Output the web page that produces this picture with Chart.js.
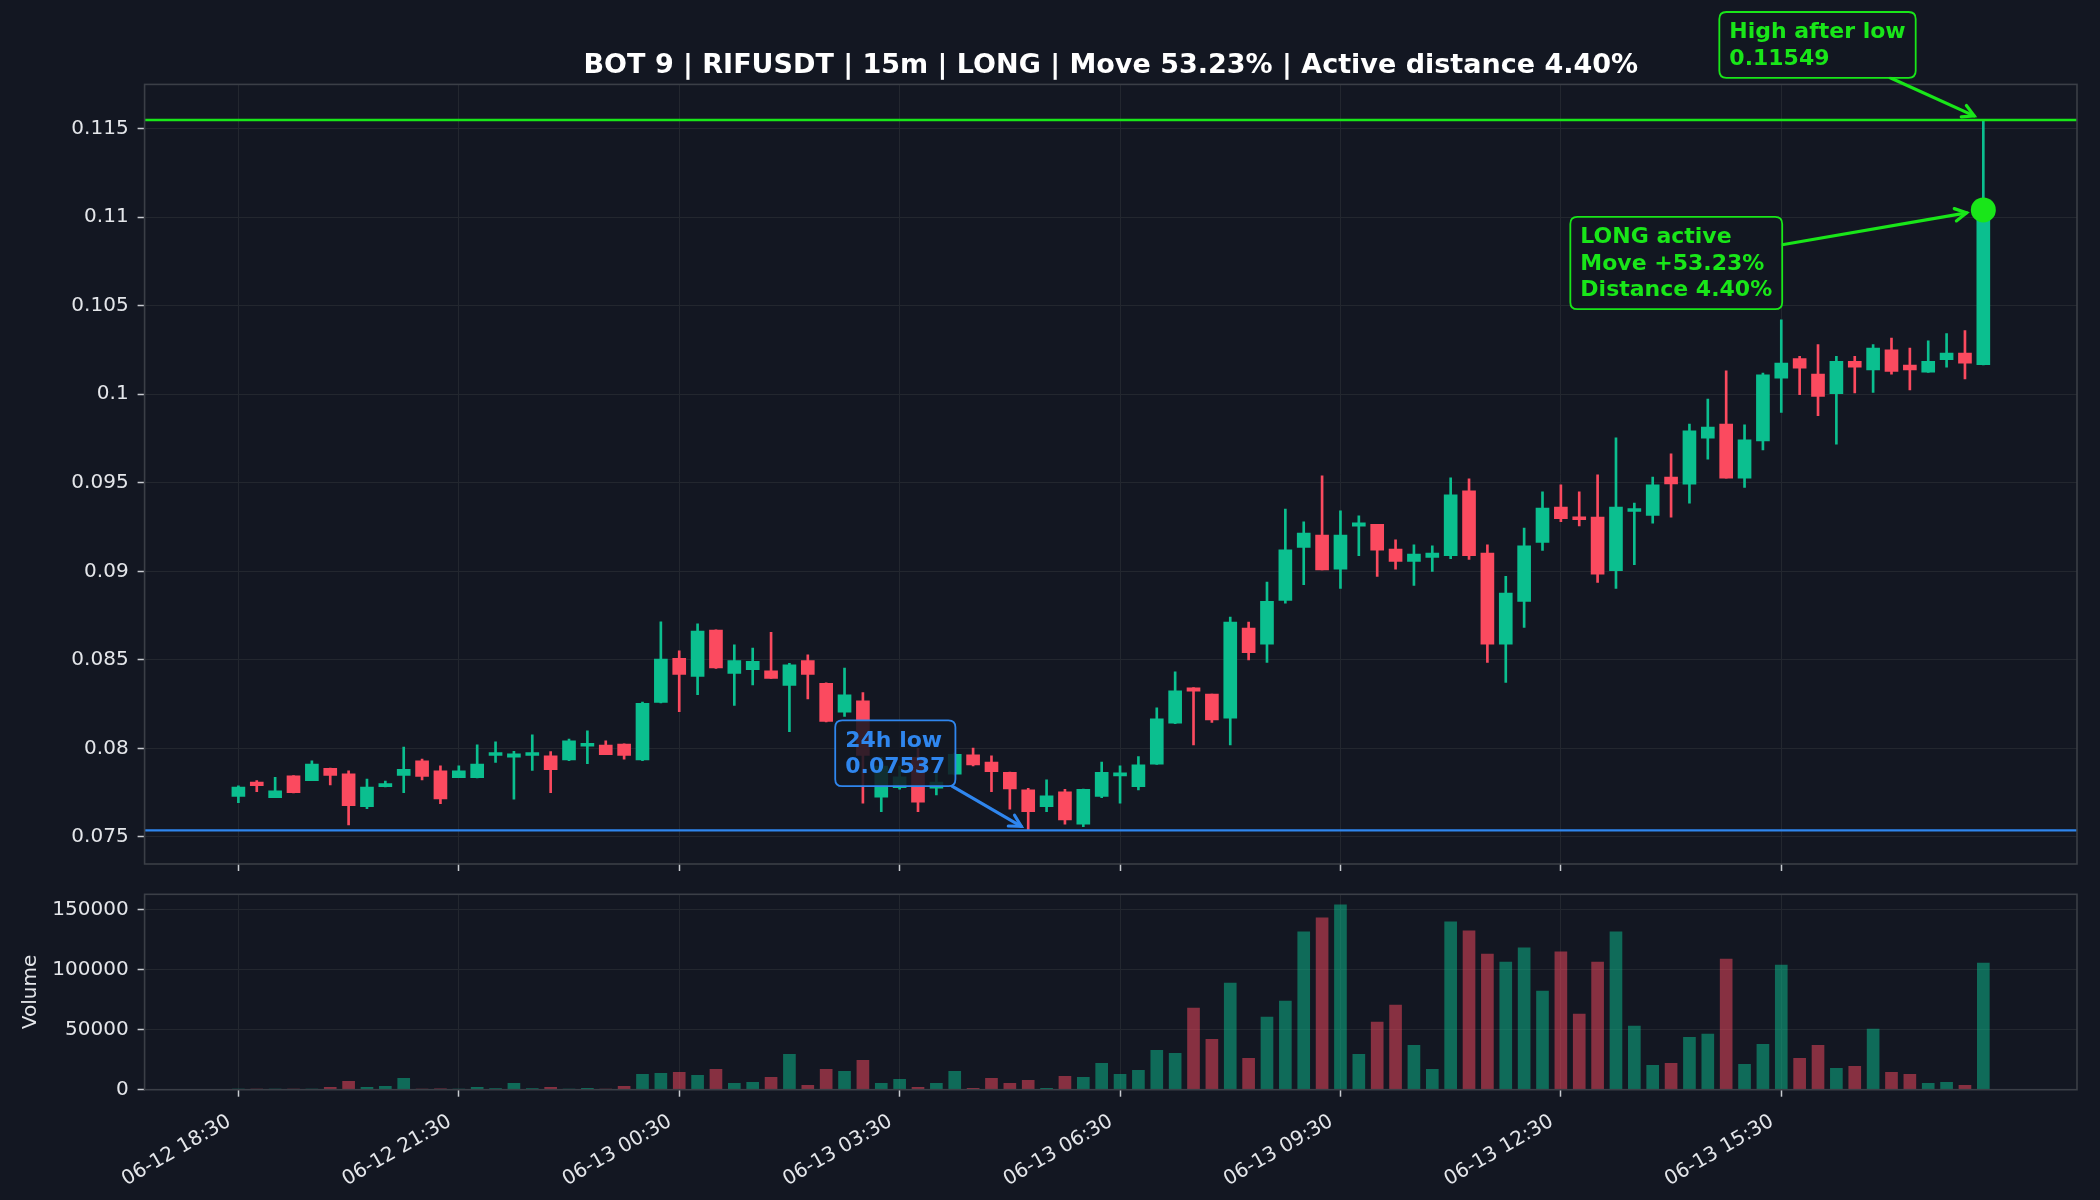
<!DOCTYPE html>
<html>
<head>
<meta charset="utf-8">
<script src="https://cdn.jsdelivr.net/npm/chart.js@4.4.1/dist/chart.umd.min.js"></script>
<style>
  html, body { margin: 0; padding: 0; background: #131722; }
  #wrap { position: relative; width: 2100px; height: 1200px; background: #131722; }
  canvas { position: absolute; left: 0; top: 0; }
</style>
</head>
<body>
<div id="wrap">
  <canvas id="price" width="2100" height="1200"></canvas>
  <canvas id="vol" width="2100" height="1200"></canvas>
</div>
<script>
// ---------------- DATA ----------------
const TITLE = 'BOT 9 | RIFUSDT | 15m | LONG | Move 53.23% | Active distance 4.40%';
const MOVE_TEXT = 'Move +53.23%';
const DIST_TEXT = 'Distance 4.40%';

const opens = [
  0.07728,0.07809,0.07722,0.07845,0.07818,0.07888,0.07856,0.07671,0.07784,0.07847,
  0.07929,0.07873,0.07835,0.07835,0.07960,0.07950,0.07960,0.07958,0.07935,0.08012,
  0.08018,0.08024,0.07935,0.08259,0.08509,0.08406,0.08668,0.08423,0.08445,0.08438,
  0.08355,0.08496,0.08368,0.08205,0.08268,0.07724,0.07778,0.07950,0.07775,0.07854,
  0.07963,0.07922,0.07865,0.07766,0.07671,0.07754,0.07572,0.07728,0.07845,0.07784,
  0.07911,0.08142,0.08342,0.08306,0.08170,0.08679,0.08589,0.08835,0.09135,0.09204,
  0.09012,0.09255,0.09266,0.09125,0.09056,0.09078,0.09088,0.09455,0.09103,0.08589,
  0.08830,0.09163,0.09363,0.09306,0.09306,0.09003,0.09338,0.09315,0.09532,0.09492,
  0.09752,0.09831,0.09526,0.09737,0.10091,0.10202,0.10114,0.10003,0.10186,0.10138,
  0.10251,0.10165,0.10125,0.10195,0.10233,0.10167
];
const highs = [
  0.07788,0.07818,0.07837,0.07847,0.07929,0.07889,0.07873,0.07826,0.07816,0.08007,
  0.07939,0.07901,0.07901,0.08020,0.08037,0.07984,0.08076,0.07982,0.08052,0.08099,
  0.08042,0.08025,0.08261,0.08715,0.08551,0.08703,0.08670,0.08585,0.08566,0.08656,
  0.08481,0.08528,0.08370,0.08453,0.08315,0.07950,0.07900,0.08000,0.07860,0.07973,
  0.08001,0.07958,0.07866,0.07775,0.07822,0.07769,0.07770,0.07922,0.07901,0.07954,
  0.08229,0.08432,0.08343,0.08306,0.08741,0.08713,0.08939,0.09351,0.09280,0.09540,
  0.09342,0.09314,0.09266,0.09178,0.09150,0.09144,0.09528,0.09523,0.09150,0.08971,
  0.09244,0.09449,0.09489,0.09449,0.09545,0.09754,0.09385,0.09532,0.09664,0.09831,
  0.09973,0.10133,0.09828,0.10120,0.10421,0.10214,0.10280,0.10214,0.10214,0.10280,
  0.10317,0.10261,0.10302,0.10342,0.10359,0.11549
];
const lows = [
  0.07694,0.07756,0.07722,0.07749,0.07817,0.07794,0.07568,0.07660,0.07783,0.07750,
  0.07822,0.07688,0.07835,0.07833,0.07920,0.07713,0.07875,0.07750,0.07931,0.07914,
  0.07964,0.07939,0.07931,0.08257,0.08208,0.08304,0.08451,0.08242,0.08359,0.08395,
  0.08095,0.08280,0.08150,0.08180,0.07690,0.07643,0.07770,0.07643,0.07737,0.07850,
  0.07901,0.07756,0.07656,0.07537,0.07643,0.07572,0.07558,0.07722,0.07690,0.07766,
  0.07910,0.08140,0.08020,0.08146,0.08020,0.08500,0.08485,0.08820,0.08924,0.09008,
  0.08903,0.09089,0.08971,0.09012,0.08920,0.08999,0.09072,0.09067,0.08485,0.08372,
  0.08683,0.09118,0.09280,0.09257,0.08937,0.08903,0.09037,0.09272,0.09306,0.09385,
  0.09634,0.09526,0.09474,0.09686,0.09897,0.09997,0.09879,0.09718,0.10007,0.10010,
  0.10114,0.10025,0.10124,0.10153,0.10086,0.10165
];
const closes = [
  0.07781,0.07790,0.07760,0.07750,0.07912,0.07847,0.07677,0.07781,0.07798,0.07882,
  0.07841,0.07715,0.07873,0.07912,0.07976,0.07969,0.07976,0.07880,0.08042,0.08029,
  0.07965,0.07960,0.08255,0.08504,0.08417,0.08662,0.08455,0.08496,0.08492,0.08395,
  0.08472,0.08417,0.08152,0.08302,0.07960,0.07900,0.07840,0.07696,0.07810,0.07967,
  0.07907,0.07869,0.07771,0.07643,0.07732,0.07596,0.07769,0.07865,0.07860,0.07907,
  0.08167,0.08325,0.08323,0.08161,0.08713,0.08541,0.08831,0.09121,0.09216,0.09008,
  0.09204,0.09274,0.09120,0.09056,0.09097,0.09103,0.09432,0.09088,0.08589,0.08877,
  0.09144,0.09357,0.09298,0.09291,0.08984,0.09363,0.09353,0.09489,0.09494,0.09794,
  0.09814,0.09526,0.09743,0.10110,0.10176,0.10148,0.09988,0.10186,0.10153,0.10261,
  0.10129,0.10138,0.10186,0.10233,0.10176,0.11041
];
const volumes = [
  120,260,90,150,200,1950,6970,1950,2800,9480,
  300,700,200,1950,840,5300,840,1950,300,1100,
  250,2790,12830,13670,14500,11990,17010,5300,6140,10320,
  29560,3630,17010,15340,24540,5300,8650,1950,5300,15340,
  1100,9480,5300,7810,1100,11160,10320,22030,12830,16180,
  32910,30400,68050,42110,88970,26220,60520,73910,131640,143350,
  154230,29560,56340,70560,37090,17010,140010,132480,113230,106540,
  118250,82280,114910,63030,106540,131640,52990,20360,22030,43790,
  46300,109050,21200,37930,104030,26220,37090,17850,19520,50480,
  14500,12830,5300,6140,3630,105700
];

const xTickValues = [0, 12, 24, 36, 48, 60, 72, 84];
const xTickLabels = ['06-12 18:30','06-12 21:30','06-13 00:30','06-13 03:30','06-13 06:30','06-13 09:30','06-13 12:30','06-13 15:30'];
const yTickValues = [0.075, 0.08, 0.085, 0.09, 0.095, 0.1, 0.105, 0.11, 0.115];
const yTickLabels = ['0.075','0.08','0.085','0.09','0.095','0.1','0.105','0.11','0.115'];
const volTickValues = [0, 50000, 100000, 150000];
const volTickLabels = ['0','50000','100000','150000'];

const LOW_24H = 0.07537;
const LOW_INDEX = 43;
const HIGH_AFTER_LOW = 0.11549;
const LAST_INDEX = 95;
const ACTIVE_PRICE = closes[LAST_INDEX];

// ---------------- STYLE ----------------
const BG = '#131722';
const GRID = '#23272f';
const SPINE = '#3b3f47';
const TICKC = '#c9ccd1';
const TEXT = '#e4e6ea';
const GREEN = '#0bbf8f';
const RED = '#fb4a5f';
const GREEN_VOL = 'rgba(11,191,143,0.5)';
const RED_VOL = 'rgba(251,74,95,0.5)';
const LIME = '#19e619';
const BLUE = '#2f86ee';
const FONT = "'DejaVu Sans', 'Liberation Sans', sans-serif";

const X_MIN = -5.107, X_MAX = 100.1;
const Y_MIN = 0.07347, Y_MAX = 0.1175;
const VOL_MAX = 163000;

Chart.defaults.font.family = FONT;
Chart.defaults.color = TEXT;

const isUp = opens.map((o, i) => closes[i] >= o);
const candleColors = isUp.map(u => u ? GREEN : RED);
const volColors = isUp.map(u => u ? GREEN_VOL : RED_VOL);
const wickData = highs.map((h, i) => ({ x: i, y: [lows[i], h] }));
const bodyData = opens.map((o, i) => ({ x: i, y: [o, closes[i]] }));
const volData = volumes.map((v, i) => ({ x: i, y: v }));

const spinePlugin = {
  id: 'spines',
  afterDraw(chart) {
    const { ctx, chartArea: a } = chart;
    ctx.save();
    ctx.strokeStyle = SPINE;
    ctx.lineWidth = 1.6;
    ctx.strokeRect(a.left, a.top, a.right - a.left, a.bottom - a.top);
    ctx.restore();
  }
};

const ANNOTATIONS = [
  { lines: ['High after low', HIGH_AFTER_LOW.toFixed(5)], x: LAST_INDEX, y: HIGH_AFTER_LOW, color: LIME, dx: -264, dy: -108, shrink: 10 },
  { lines: ['LONG active', MOVE_TEXT, DIST_TEXT], x: LAST_INDEX, y: ACTIVE_PRICE, color: LIME, dx: -413, dy: 7, shrink: 17 },
  { lines: ['24h low', LOW_24H.toFixed(5)], x: LOW_INDEX, y: LOW_24H, color: BLUE, dx: -193, dy: -110, shrink: 8 }
];

function roundRect(ctx, x, y, w, h, r) {
  ctx.beginPath();
  ctx.moveTo(x + r, y);
  ctx.lineTo(x + w - r, y);
  ctx.quadraticCurveTo(x + w, y, x + w, y + r);
  ctx.lineTo(x + w, y + h - r);
  ctx.quadraticCurveTo(x + w, y + h, x + w - r, y + h);
  ctx.lineTo(x + r, y + h);
  ctx.quadraticCurveTo(x, y + h, x, y + h - r);
  ctx.lineTo(x, y + r);
  ctx.quadraticCurveTo(x, y, x + r, y);
  ctx.closePath();
}

const annotationPlugin = {
  id: 'annotations',
  afterDraw(chart) {
    const { ctx } = chart;
    const xs = chart.scales.x, ys = chart.scales.y;
    const fs = 22, lh = fs * 1.2, padX = 10, padY = 6.5;
    ctx.save();
    ctx.font = `bold ${fs}px ${FONT}`;
    ANNOTATIONS.forEach(a => {
      const px = xs.getPixelForValue(a.x);
      const py = ys.getPixelForValue(a.y);
      const tw = Math.max(...a.lines.map(l => ctx.measureText(l).width));
      const bw = tw + 2 * padX, bh = a.lines.length * lh + 2 * padY;
      const bx = px + a.dx, by = py + a.dy;
      const cx = bx + bw / 2, cy = by + bh / 2;
      const ddx = px - cx, ddy = py - cy;
      const t = Math.min((bw / 2) / Math.abs(ddx || 1e-9), (bh / 2) / Math.abs(ddy || 1e-9));
      const sx = cx + ddx * t, sy = cy + ddy * t;
      const len = Math.hypot(ddx, ddy);
      const ux = ddx / len, uy = ddy / len;
      const ex = px - ux * a.shrink, ey = py - uy * a.shrink;
      ctx.strokeStyle = a.color;
      ctx.lineWidth = 3.2;
      ctx.lineCap = 'round';
      ctx.lineJoin = 'miter';
      ctx.beginPath();
      ctx.moveTo(sx, sy);
      ctx.lineTo(ex, ey);
      ctx.stroke();
      const hl = 13, ang = 0.5;
      const base = Math.atan2(uy, ux);
      ctx.beginPath();
      ctx.moveTo(ex - hl * Math.cos(base - ang), ey - hl * Math.sin(base - ang));
      ctx.lineTo(ex, ey);
      ctx.lineTo(ex - hl * Math.cos(base + ang), ey - hl * Math.sin(base + ang));
      ctx.stroke();
      roundRect(ctx, bx, by, bw, bh, 7);
      ctx.fillStyle = 'rgba(19,23,34,0.86)';
      ctx.fill();
      ctx.lineWidth = 1.8;
      ctx.strokeStyle = a.color;
      ctx.stroke();
      ctx.fillStyle = a.color;
      ctx.textAlign = 'left';
      ctx.textBaseline = 'middle';
      a.lines.forEach((l, i) => ctx.fillText(l, bx + padX, by + padY + lh * (i + 0.5) + 1));
    });
    ctx.restore();
  }
};

const tickFont = { size: 20, family: FONT };

// ---------------- PRICE CHART ----------------
new Chart(document.getElementById('price'), {
  type: 'bar',
  data: {
    datasets: [
      { type: 'bar', data: wickData, backgroundColor: candleColors, barThickness: 2, grouped: false, order: 5, borderWidth: 0 },
      { type: 'bar', data: bodyData, backgroundColor: candleColors, barThickness: 13, minBarLength: 3, grouped: false, order: 4, borderWidth: 0 },
      { type: 'line', data: [{ x: X_MIN, y: HIGH_AFTER_LOW }, { x: X_MAX, y: HIGH_AFTER_LOW }], borderColor: LIME, borderWidth: 2.4, pointRadius: 0, order: 2 },
      { type: 'line', data: [{ x: X_MIN, y: LOW_24H }, { x: X_MAX, y: LOW_24H }], borderColor: BLUE, borderWidth: 2.2, pointRadius: 0, order: 2 },
      { type: 'line', data: [{ x: LAST_INDEX, y: ACTIVE_PRICE }], showLine: false, pointRadius: 12.5, pointBackgroundColor: LIME, pointBorderWidth: 0, borderColor: LIME, order: 1 }
    ]
  },
  options: {
    responsive: false,
    animation: false,
    devicePixelRatio: 1,
    events: [],
    layout: { padding: { left: 0, right: 23, top: 0, bottom: 0 } },
    plugins: {
      legend: { display: false },
      tooltip: { enabled: false },
      title: {
        display: true, text: TITLE, fullSize: false, color: '#ffffff',
        font: { size: 27, weight: 'bold', family: FONT },
        padding: { top: 50, bottom: 2 }
      }
    },
    scales: {
      x: {
        type: 'linear', min: X_MIN, max: X_MAX, offset: false, bounds: 'data',
        afterBuildTicks: s => { s.ticks = xTickValues.map(v => ({ value: v })); },
        afterFit: s => { s.height = 336; },
        ticks: { display: false },
        grid: { color: GRID, offset: false, drawTicks: true, tickLength: 7, tickColor: TICKC, tickWidth: 1.5 },
        border: { display: false }
      },
      y: {
        type: 'linear', min: Y_MIN, max: Y_MAX, beginAtZero: false, bounds: 'data',
        afterBuildTicks: s => { s.ticks = yTickValues.map(v => ({ value: v })); },
        afterFit: s => { s.width = 144.6; },
        ticks: { color: TEXT, font: tickFont, padding: 9, callback: (v, i) => yTickLabels[i] },
        grid: { color: GRID, drawTicks: true, tickLength: 7, tickColor: TICKC, tickWidth: 1.5 },
        border: { display: false }
      }
    }
  },
  plugins: [spinePlugin, annotationPlugin]
});

// ---------------- VOLUME CHART ----------------
new Chart(document.getElementById('vol'), {
  type: 'bar',
  data: {
    datasets: [
      { type: 'bar', data: volData, backgroundColor: volColors, barThickness: 12, grouped: false, borderWidth: 0 }
    ]
  },
  options: {
    responsive: false,
    animation: false,
    devicePixelRatio: 1,
    events: [],
    layout: { padding: { left: 0, right: 23, top: 894.3, bottom: 0 } },
    plugins: { legend: { display: false }, tooltip: { enabled: false } },
    scales: {
      x: {
        type: 'linear', min: X_MIN, max: X_MAX, offset: false, bounds: 'data',
        afterBuildTicks: s => { s.ticks = xTickValues.map(v => ({ value: v })); },
        afterFit: s => { s.height = 110.3; },
        ticks: { color: TEXT, font: tickFont, minRotation: 30, maxRotation: 30, autoSkip: false, padding: 13, labelOffset: -9,
                 callback: (v, i) => xTickLabels[i] },
        grid: { color: GRID, offset: false, drawTicks: true, tickLength: 7, tickColor: TICKC, tickWidth: 1.5 },
        border: { display: false }
      },
      y: {
        type: 'linear', min: 0, max: VOL_MAX, bounds: 'data',
        afterBuildTicks: s => { s.ticks = volTickValues.map(v => ({ value: v })); },
        afterFit: s => { s.width = 144.6; },
        title: { display: true, text: 'Volume', color: TEXT, font: { size: 20, family: FONT }, padding: { top: 19, bottom: 0 } },
        ticks: { color: TEXT, font: tickFont, padding: 9, callback: (v, i) => volTickLabels[i] },
        grid: { color: GRID, drawTicks: true, tickLength: 7, tickColor: TICKC, tickWidth: 1.5 },
        border: { display: false }
      }
    }
  },
  plugins: [spinePlugin]
});
</script>
</body>
</html>
